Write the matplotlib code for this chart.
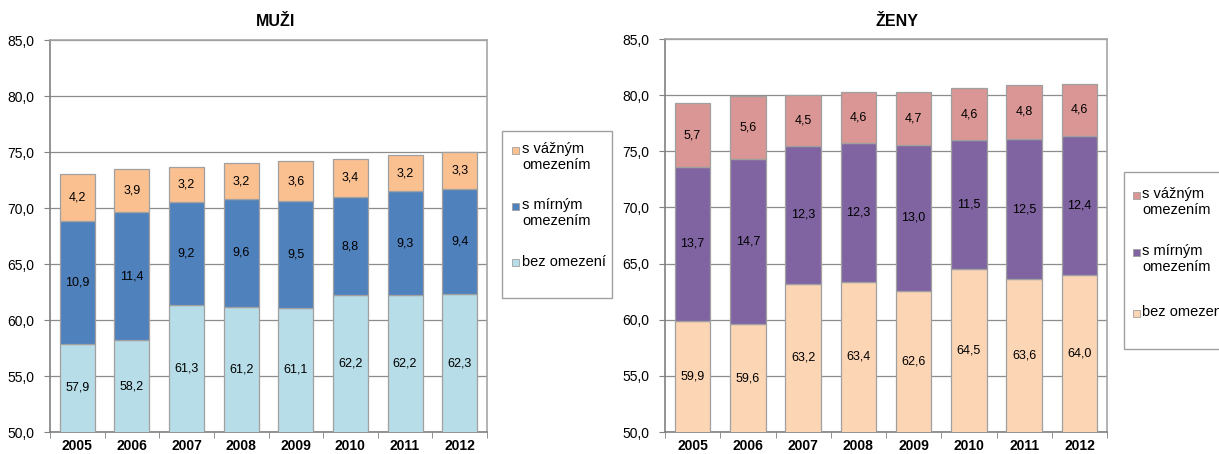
import matplotlib.pyplot as plt
import numpy as np
from matplotlib.patches import Rectangle

years = ["2005", "2006", "2007", "2008", "2009", "2010", "2011", "2012"]

men_none = [57.9, 58.2, 61.3, 61.2, 61.1, 62.2, 62.2, 62.3]
men_mild = [10.9, 11.4, 9.2, 9.6, 9.5, 8.8, 9.3, 9.4]
men_severe = [4.2, 3.9, 3.2, 3.2, 3.6, 3.4, 3.2, 3.3]

women_none = [59.9, 59.6, 63.2, 63.4, 62.6, 64.5, 63.6, 64.0]
women_mild = [13.7, 14.7, 12.3, 12.3, 13.0, 11.5, 12.5, 12.4]
women_severe = [5.7, 5.6, 4.5, 4.6, 4.7, 4.6, 4.8, 4.6]

series_labels = ["bez omezení", "s mírným\nomezením", "s vážným\nomezením"]
men_colors = ["#B7DDE8", "#4F81BD", "#FAC090"]
women_colors = ["#FCD5B5", "#8064A2", "#D99694"]

YMIN, YMAX = 50.0, 85.0
W, H = 1219, 454

plt.rcParams["font.family"] = ["Liberation Sans", "DejaVu Sans"]

fig = plt.figure(figsize=(W / 100, H / 100), dpi=100)


def fmt(v):
    return f"{v:.1f}".replace(".", ",")


def frac(x0, y0, x1, y1):
    return [x0 / W, 1 - y1 / H, (x1 - x0) / W, (y1 - y0) / H]


def draw_panel(rect, title, title_x, parts, colors, legend_box, legend_rows):
    ax = fig.add_axes(frac(*rect))
    x = np.arange(len(years))
    bottom = np.zeros(len(years))
    for vals, col in zip(parts, colors):
        vals = np.array(vals)
        ax.bar(x, vals, bottom=bottom, width=0.64, color=col,
               edgecolor="#A0A0A0", linewidth=0.9, zorder=3)
        for xi, b, v in zip(x, bottom, vals):
            lo = max(b, YMIN)
            hi = b + v
            ax.text(xi, (lo + hi) / 2, fmt(v), ha="center", va="center",
                    fontsize=9, color="black", zorder=4)
        bottom = bottom + vals
    ax.set_xlim(-0.5, len(years) - 0.5)
    ax.set_ylim(YMIN, YMAX)
    yt = np.arange(50, 85.1, 5)
    ax.set_yticks(yt)
    ax.set_yticklabels([fmt(v) for v in yt], fontsize=10)
    ax.set_xticks(x)
    ax.set_xticklabels(years, fontsize=10, fontweight="bold")
    ax.tick_params(axis="x", length=0, pad=5)
    ax.set_xticks(np.arange(-0.5, len(years), 1), minor=True)
    ax.tick_params(axis="x", which="minor", length=4, color="#808080")
    ax.tick_params(axis="y", length=4, color="#808080", pad=7)
    ax.grid(axis="y", color="#8C8C8C", linewidth=0.9, zorder=0)
    for s in ax.spines.values():
        s.set_color("#A6A6A6")
        s.set_linewidth(1.2)
    ax.spines["left"].set_color("#808080")
    ax.spines["bottom"].set_color("#808080")
    fig.text(title_x / W, 1 - 21 / H, title, ha="center", va="center",
             fontsize=11.5, fontweight="bold")

    # legend frame and entries
    bx0, by0, bx1, by1 = legend_box
    fig.patches.append(Rectangle((bx0 / W, 1 - by1 / H), (bx1 - bx0) / W,
                                 (by1 - by0) / H, transform=fig.transFigure,
                                 facecolor="white", edgecolor="#A0A0A0",
                                 linewidth=1.0, zorder=1))
    sw_x, txt_x, rows = legend_rows
    for col, lab, ycen in zip(colors[::-1], series_labels[::-1], rows):
        fig.patches.append(Rectangle((sw_x / W, 1 - (ycen + 3.5) / H),
                                     7 / W, 7 / H, transform=fig.transFigure,
                                     facecolor=col, edgecolor="#A0A0A0",
                                     linewidth=0.6, zorder=2))
        fig.text(txt_x / W, 1 - (ycen - 7.5) / H, lab, ha="left", va="top",
                 fontsize=10.5, linespacing=1.15, zorder=3)
    return ax


draw_panel((50, 40, 487, 432), "MUŽI", 276,
           [men_none, men_mild, men_severe], men_colors,
           (502, 131, 612, 298), (512, 522, [150, 206, 262]))
draw_panel((665, 39, 1107, 432), "ŽENY", 897,
           [women_none, women_mild, women_severe], women_colors,
           (1124, 172, 1260, 349), (1133, 1142, [195, 252, 313]))

fig.savefig("out.png", dpi=100)
